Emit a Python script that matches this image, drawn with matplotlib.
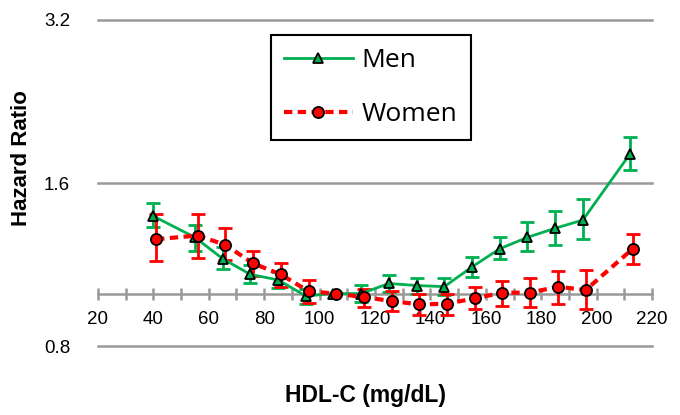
import matplotlib
matplotlib.use('Agg')
import matplotlib.pyplot as plt
from matplotlib.ticker import FixedLocator, MultipleLocator, NullLocator
import numpy as np

plt.rcParams['font.family'] = ['Liberation Sans', 'DejaVu Sans']

# HDL-C category midpoints (mg/dL)
men_x = [40, 55, 65, 75, 85, 95, 105, 115, 125, 135, 145, 155, 165, 175, 185, 195, 212]
women_x = [41, 56, 66, 76, 86, 96, 106, 116, 126, 136, 146, 156, 166, 176, 186, 196, 213]

# hazard ratios with 95% CI (reference category has none)
men_hr = [1.39, 1.27, 1.16, 1.085, 1.06, 0.99, 1.0, 1.0, 1.044, 1.035, 1.03, 1.12, 1.21, 1.27, 1.32, 1.367, 1.81]
men_lo = [1.33, 1.20, 1.11, 1.047, 1.025, 0.958, np.nan, 0.966, 1.008, 1.0, 0.992, 1.073, 1.156, 1.20, 1.23, 1.26, 1.69]
men_hi = [1.47, 1.34, 1.22, 1.13, 1.097, 1.018, np.nan, 1.037, 1.082, 1.07, 1.07, 1.17, 1.27, 1.355, 1.42, 1.498, 1.945]

women_hr = [1.26, 1.28, 1.23, 1.137, 1.085, 1.01, 1.0, 0.985, 0.969, 0.955, 0.958, 0.98, 1.004, 1.004, 1.03, 1.015, 1.21]
women_lo = [1.148, 1.165, 1.153, 1.077, 1.028, 0.962, np.nan, 0.944, 0.928, 0.915, 0.915, 0.935, 0.95, 0.945, 0.958, 0.935, 1.135]
women_hi = [1.40, 1.40, 1.32, 1.20, 1.14, 1.058, np.nan, 1.018, 1.01, 0.997, 1.0, 1.028, 1.057, 1.067, 1.10, 1.104, 1.286]

y_ticks = [0.8, 1.6, 3.2]

green = '#00B050'
red = '#FF0000'

fig = plt.figure(figsize=(6.8, 4.15), dpi=100)
ax = fig.add_axes([0.144, 0.166, 0.815, 0.786])

def err(hr, lo, hi):
    hr = np.array(hr); lo = np.array(lo); hi = np.array(hi)
    return np.vstack([hr - lo, hi - hr])

ax.errorbar(men_x, men_hr, yerr=err(men_hr, men_lo, men_hi), fmt='none',
            ecolor=green, elinewidth=2, capsize=5, capthick=2, zorder=3)
ax.errorbar(women_x, women_hr, yerr=err(women_hr, women_lo, women_hi), fmt='none',
            ecolor=red, elinewidth=2, capsize=5, capthick=2, zorder=3)

ax.plot(men_x, men_hr, color=green, lw=2, marker='^', ms=7, mfc=green,
        mec='black', mew=1.3, label='Men', zorder=4)
ax.plot(women_x, women_hr, color=red, lw=3, ls=(0, (2, 1.3)), marker='o', ms=8,
        mfc=red, mec='black', mew=1.3, label='Women', zorder=4)

ax.set_yscale('log', base=2)
ax.set_ylim(0.8, 3.2)
ax.set_xlim(20, 220)
ax.yaxis.set_major_locator(FixedLocator(y_ticks))
ax.yaxis.set_minor_locator(NullLocator())
ax.set_yticklabels([str(v) for v in y_ticks])
for v in y_ticks:
    ax.axhline(v, color='#999999', lw=1.8, zorder=1, clip_on=False)

ax.xaxis.set_major_locator(MultipleLocator(20))
ax.xaxis.set_minor_locator(MultipleLocator(10))

for s in ['left', 'right', 'top']:
    ax.spines[s].set_visible(False)
ax.spines['bottom'].set_position(('data', 1.0))
ax.spines['bottom'].set_color('#999999')
ax.spines['bottom'].set_linewidth(1.8)
ax.spines['bottom'].set_zorder(2)

ax.tick_params(axis='x', which='both', direction='inout', color='#999999',
               width=1.8, length=9, labelsize=13.5, pad=8)
ax.tick_params(axis='y', length=0, labelsize=13.5, pad=20)

fig.text(0.032, 0.62, 'Hazard Ratio', fontsize=16, fontweight='bold',
         rotation=90, ha='center', va='center')
fig.text(0.537, 0.048, 'HDL-C (mg/dL)', fontsize=16.5, fontweight='bold',
         ha='center', va='center')

leg = ax.legend(loc='upper left', bbox_to_anchor=(0.312, 0.954), borderaxespad=0,
                fancybox=False, framealpha=1, edgecolor='black',
                handlelength=2.6, handletextpad=0.35, labelspacing=1.1,
                borderpad=0.5, prop={'family': 'Open Sans', 'size': 19})
leg.get_frame().set_linewidth(1.5)

fig.savefig('out.png', dpi=100)
